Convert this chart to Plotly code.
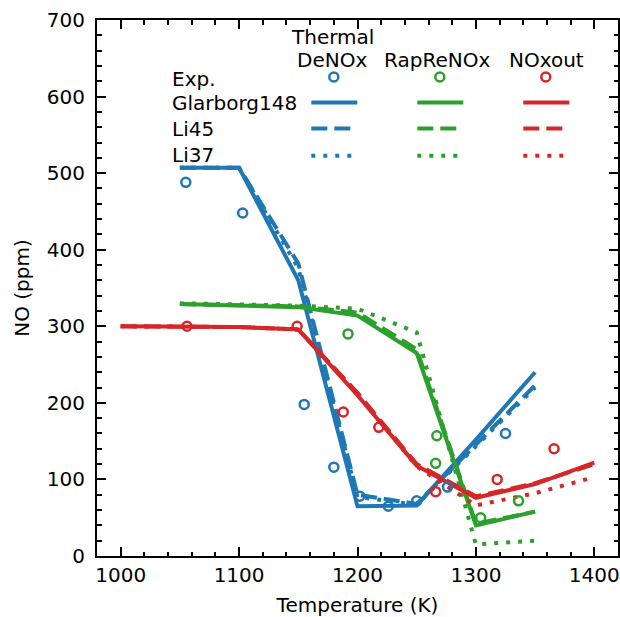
import plotly.graph_objects as go

# ---------------- data ----------------
T_thermal = [1050, 1100, 1150, 1200, 1250, 1300, 1350]
thermal_glarborg = [507, 507, 360, 65, 66, 152, 240]
thermal_li45 = [507, 507, 382, 80, 68, 145, 223]
thermal_li37 = [507, 507, 376, 77, 67, 143, 220]
T_thermal_exp = [1055, 1103, 1155, 1180, 1202, 1226, 1250, 1276, 1325]
thermal_exp = [488, 448, 198, 116, 78, 65, 72, 90, 160]

T_rapre = [1050, 1100, 1150, 1200, 1250, 1300, 1350]
rapre_glarborg = [329, 327, 325, 314, 265, 40, 58]
rapre_li45 = [329, 328, 326, 318, 270, 42, 58]
rapre_li37 = [330, 329, 327, 323, 292, 15, 20]
T_rapre_exp = [1192, 1267, 1266, 1304, 1336]
rapre_exp = [290, 157, 121, 50, 72]

T_noxout = [1000, 1050, 1100, 1150, 1200, 1250, 1300, 1350, 1400]
noxout_glarborg = [300, 300, 299, 296, 210, 118, 76, 94, 122]
noxout_li45 = [300, 300, 299, 296, 213, 120, 78, 95, 120]
noxout_li37 = [300, 300, 299, 296, 212, 117, 66, 82, 103]
T_noxout_exp = [1056, 1149, 1188, 1218, 1266, 1318, 1366]
noxout_exp = [300, 300, 188, 168, 84, 100, 140]

case_names = ["Thermal<br>DeNOx", "RapReNOx", "NOxout"]
row_names = ["Exp.", "Glarborg148", "Li45", "Li37"]
colors = ["#1f77b4", "#2ca02c", "#d62728"]

x_ticks = [1000, 1100, 1200, 1300, 1400]
y_ticks = [0, 100, 200, 300, 400, 500, 600, 700]

# ---------------- figure ----------------
FONT = "DejaVu Sans"
LW = 4
DASH = "16px,7px"
DOT = "4px,8px"

fig = go.Figure()

cases = [
    (T_thermal, thermal_glarborg, thermal_li45, thermal_li37, T_thermal_exp, thermal_exp),
    (T_rapre, rapre_glarborg, rapre_li45, rapre_li37, T_rapre_exp, rapre_exp),
    (T_noxout, noxout_glarborg, noxout_li45, noxout_li37, T_noxout_exp, noxout_exp),
]

for (T, g, l45, l37, Te, e), c in zip(cases, colors):
    for ys, dash in ((l37, DOT), (l45, DASH), (g, "solid")):
        fig.add_trace(go.Scatter(x=T, y=ys, mode="lines",
                                 line=dict(color=c, width=LW, dash=dash),
                                 showlegend=False, hoverinfo="skip"))

for (T, g, l45, l37, Te, e), c in zip(cases, colors):
    fig.add_trace(go.Scatter(x=Te, y=e, mode="markers",
                             marker=dict(symbol="circle-open", size=9, color=c,
                                         line=dict(width=2.5, color=c)),
                             showlegend=False, hoverinfo="skip"))

# ---------------- custom table legend ----------------
L, R, TOP, BOT = 96.7, 617.7, 20.5, 556.0


def px(xp):
    return (xp - L) / (R - L)


def py(yp):
    return (BOT - yp) / (BOT - TOP)


annotations = []
shapes = []
txt = dict(family=FONT, size=20, color="black")

# column headers
col_centers = [332, 437, 546]
annotations.append(dict(xref="paper", yref="paper", x=px(332), y=py(37),
                        text="Thermal", showarrow=False, font=txt,
                        xanchor="center", yanchor="middle"))
for xc, name in zip(col_centers, ["DeNOx", "RapReNOx", "NOxout"]):
    annotations.append(dict(xref="paper", yref="paper", x=px(xc), y=py(60),
                            text=name, showarrow=False, font=txt,
                            xanchor="center", yanchor="middle"))

# row labels
row_y = [79, 103, 129, 155]
for yy, name in zip(row_y, row_names):
    annotations.append(dict(xref="paper", yref="paper", x=px(170), y=py(yy),
                            text=name, showarrow=False, font=txt,
                            xanchor="left", yanchor="middle"))

# handles
handle_x = [(311, 357), (417, 463), (523, 569)]
marker_x = [333.5, 439.5, 545.5]
for (x0, x1), mx, c in zip(handle_x, marker_x, colors):
    shapes.append(dict(type="circle", xref="paper", yref="paper",
                       xsizemode="pixel", ysizemode="pixel",
                       xanchor=px(mx), yanchor=py(77.5),
                       x0=-4.5, x1=4.5, y0=-4.5, y1=4.5,
                       line=dict(color=c, width=2.5)))
    for yy, dash in ((103, "solid"), (129, DASH), (156, DOT)):
        shapes.append(dict(type="line", xref="paper", yref="paper",
                           x0=px(x0), x1=px(x1), y0=py(yy), y1=py(yy),
                           line=dict(color=c, width=LW, dash=dash)))

axis_common = dict(
    showline=True, linecolor="black", linewidth=2, mirror="allticks",
    ticks="inside", ticklen=9, tickwidth=1.5, tickcolor="black",
    showgrid=False, zeroline=False, automargin=False,
    tickfont=dict(family=FONT, size=20, color="black"),
    minor=dict(ticks="inside", ticklen=4.5, tickwidth=1.5, tickcolor="black",
               dtick=20, showgrid=False),
)

fig.update_layout(
    width=620, height=617,
    margin=dict(l=97, r=2, t=20, b=61),
    paper_bgcolor="white", plot_bgcolor="white",
    font=dict(family=FONT, size=20, color="black"),
    annotations=annotations, shapes=shapes,
    xaxis=dict(range=[980, 1420], tickvals=x_ticks,
               title=dict(text="Temperature (K)", standoff=12,
                          font=dict(family=FONT, size=20)),
               **axis_common),
    yaxis=dict(range=[0, 700], tickvals=y_ticks, ticklabelstandoff=6,
               title=dict(text="NO (ppm)", standoff=12,
                          font=dict(family=FONT, size=20)),
               **axis_common),
)

fig.write_html(
    "out.html",
    config={"displayModeBar": False},
    post_script="document.body.style.margin='0';document.body.style.padding='0';"
                "document.body.style.overflow='hidden';",
)
